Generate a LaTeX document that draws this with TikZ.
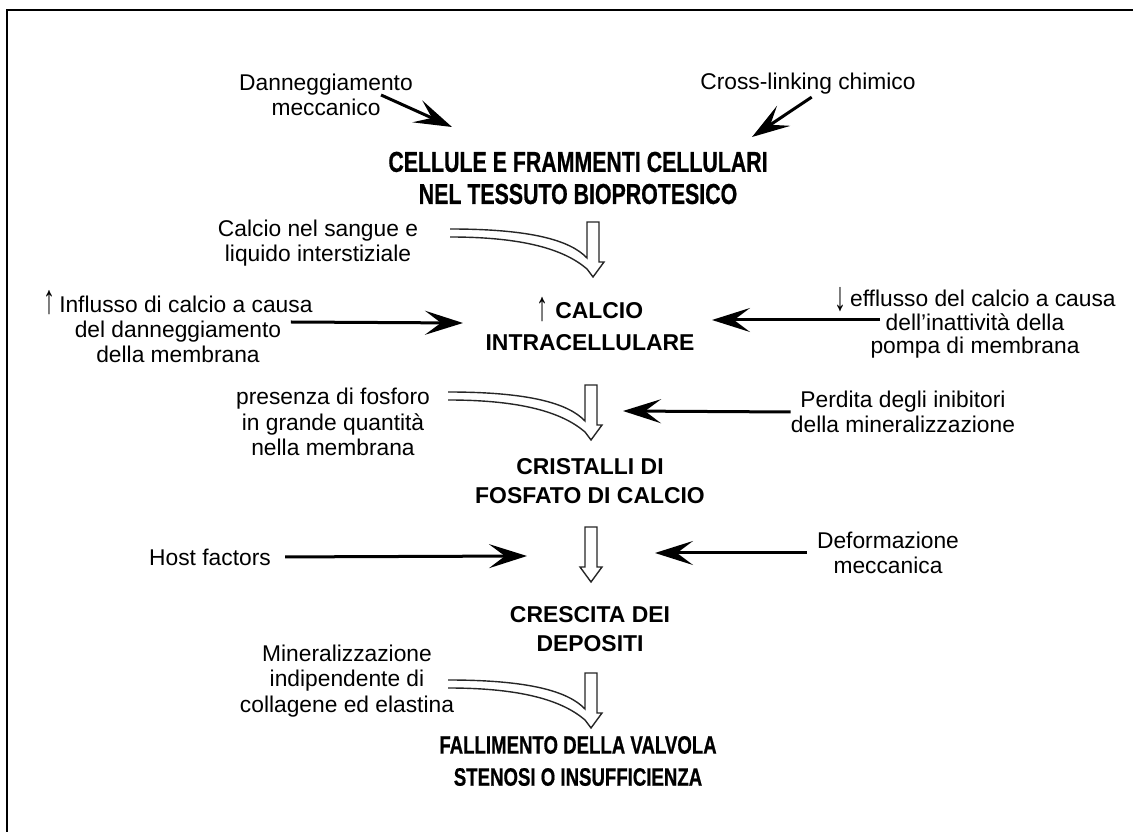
\documentclass[tikz,border=0pt]{standalone}
\usepackage{graphicx}
\usepackage{fontspec}
\setmainfont{Liberation Sans}
\newfontfamily\condfont{Liberation Sans}[FakeStretch=0.74, FakeBold=0.6]
\usetikzlibrary{arrows.meta, calc}
\tikzset{
    cause/.style={align=center, inner sep=0pt, font=\fontsize{16.2}{18.1}\selectfont},
    stage/.style={align=center, inner sep=0pt, font=\fontsize{16.3}{21}\selectfont\bfseries},
    condstage/.style={align=center, inner sep=0pt, font=\condfont\bfseries\fontsize{20.5}{22.8}\selectfont},
    pusharrow/.style={line width=0.075cm, -{Stealth[length=0.95cm, width=0.6cm, inset=0.4cm]}},
    hollow/.style={draw=black!85, line width=0.035cm, fill=white, line join=miter}
}
\newcommand{\upmark}{\raisebox{-0.15ex}{\scalebox{1.05}[1.8]{↑}}}
\newcommand{\downmark}{\raisebox{-0.35ex}{\scalebox{1.05}[1.8]{↓}}}
% hollow arrows, drawn from the top of the shaft
\newcommand{\bentflow}[1]{%
  \draw[hollow, shift={(#1)}] (-143,7) .. controls (-63,7) and (-23,18) .. (-6,36)
    -- (-6,0) -- (6,0) -- (6,40) -- (11,40) -- (0,55) -- (-6,47)
    .. controls (-28,28) and (-68,15) .. (-143,15);}
\newcommand{\plainflow}[1]{%
  \draw[hollow, shift={(#1)}] (-6,0) -- (6,0) -- (6,40) -- (11,40) -- (0,55)
    -- (-11,40) -- (-6,40) -- cycle;}

\begin{document}
\begin{tikzpicture}[x=0.025cm, y=-0.025cm]
\useasboundingbox (0,0) rectangle (1133,832);
\draw[line width=0.065cm] (7,832) -- (7,10) -- (1133,10);

% stages
\node[condstage] (cells) at (578,178) {CELLULE E FRAMMENTI CELLULARI\\NEL TESSUTO BIOPROTESICO};
\node[stage, font=\fontsize{16.3}{22.8}\selectfont\bfseries] (calcium) at (590,324) {\upmark\ CALCIO\\INTRACELLULARE};
\node[stage] (crystals) at (590,481) {CRISTALLI DI\\FOSFATO DI CALCIO};
\node[stage] (growth) at (590,629) {CRESCITA DEI\\DEPOSITI};
\node[condstage, font=\condfont\bfseries\fontsize{17.9}{22.8}\selectfont] (failure) at (578,761) {FALLIMENTO DELLA VALVOLA\\STENOSI O INSUFFICIENZA};

% causes
\node[cause] (dmg) at (326,95) {Danneggiamento\\meccanico};
\node[cause] (xlink) at (808,84) {Cross-linking chimico};
\node[cause] (blood) at (318,243) {Calcio nel sangue e\\liquido interstiziale};
\node[cause] (influx) at (178,327) {\upmark\,Influsso di calcio a causa\\del danneggiamento\\della membrana};
\node[cause, font=\fontsize{16.2}{16.7}\selectfont] (efflux) at (975,323) {\downmark\,efflusso del calcio a causa\\dell'inattività della\\pompa di membrana};
\node[cause] (phosph) at (333,422) {presenza di fosforo\\in grande quantità\\nella membrana};
\node[cause] (inhib) at (903,412) {Perdita degli inibitori\\della mineralizzazione};
\node[cause] (host) at (210,557) {Host factors};
\node[cause] (deform) at (888,553) {Deformazione\\meccanica};
\node[cause] (mineral) at (347,681) {Mineralizzazione\\indipendente di\\collagene ed elastina};

% arrow ends
\coordinate (c_dmg) at (452,127);
\coordinate (c_xlink) at (752,137);
\coordinate (c_in) at (463,323);
\coordinate (c_out) at (712,320);
\coordinate (c_inhib) at (623,411);
\coordinate (c_host) at (527,556);
\coordinate (c_def) at (655,553);
\coordinate (f1) at (593,222);
\coordinate (f2) at (591,385);
\coordinate (f3) at (591,527);
\coordinate (f4) at (591,673);

\draw[pusharrow] ($(dmg.east)+(-32,0)$) -- (c_dmg);
\draw[pusharrow, shorten <=0.1cm] ($(xlink.south)+(7,0)$) -- (c_xlink);
\draw[pusharrow] ($(influx.east)+(-22,-5)$) -- (c_in);
\draw[pusharrow] ($(efflux.west)+(46,-3)$) -- (c_out);
\draw[pusharrow] (inhib.west) -- (c_inhib);
\draw[pusharrow, shorten <=0.35cm] (host.east) -- (c_host);
\draw[pusharrow, shorten <=0.25cm] (deform.west) -- (c_def);

\bentflow{f1}
\bentflow{f2}
\plainflow{f3}
\bentflow{f4}
\end{tikzpicture}
\end{document}
